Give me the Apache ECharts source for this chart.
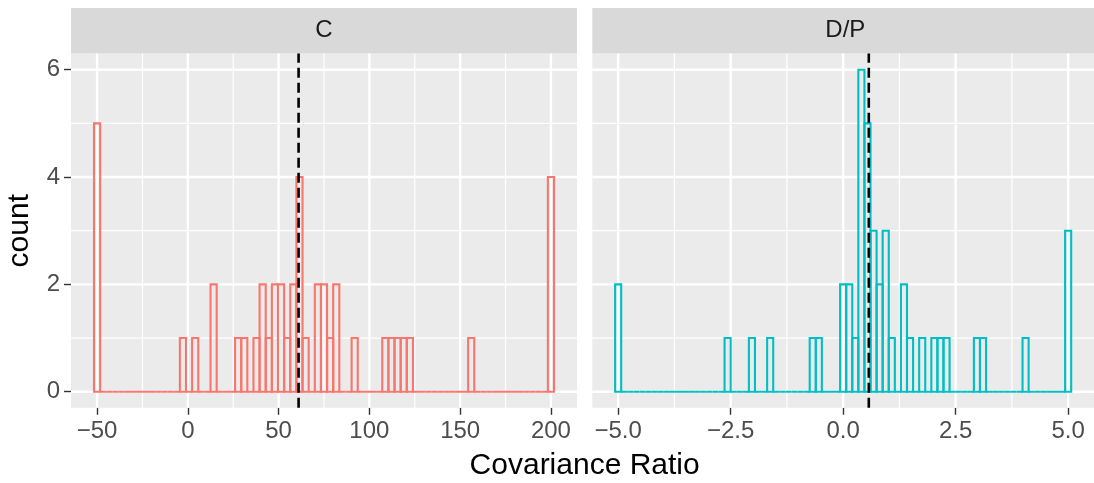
<!DOCTYPE html>
<html>
<head>
<meta charset="utf-8">
<script src="https://cdn.jsdelivr.net/npm/echarts@6/dist/echarts.min.js"></script>
<style>html,body{margin:0;padding:0;background:#fff;}#chart{width:1094px;height:483px;}</style>
</head>
<body>
<div id="chart"></div>
<script>
// ---- data ----
const BINS = 75;
const panels = ['C', 'D/P'];
const cRange = [-50, 200];           // centre of first / last bin
const dpRange = [-5, 5];
const cCounts = [
  5,0,0,0,0,0,0,0,0,0,
  0,0,0,0,1,0,1,0,0,2,
  0,0,0,1,1,0,1,2,1,2,
  2,1,2,4,1,0,2,2,1,2,
  0,0,1,0,0,0,0,1,1,1,
  1,1,0,0,0,0,0,0,0,0,
  0,1,0,0,0,0,0,0,0,0,
  0,0,0,0,4
];
const dpCounts = [
  2,0,0,0,0,0,0,0,0,0,
  0,0,0,0,0,0,0,0,1,0,
  0,0,1,0,0,1,0,0,0,0,
  0,0,1,1,0,0,0,2,2,1,
  6,5,3,2,3,1,0,2,1,0,
  1,0,1,1,1,0,0,0,0,1,
  1,0,0,0,0,0,0,1,0,0,
  0,0,0,0,3
];
const cMedian = 61;
const dpMedian = 0.57;
const cTicks = [-50, 0, 50, 100, 150, 200];
const cMinor = [-25, 25, 75, 125, 175];
const dpTicks = [-5, -2.5, 0, 2.5, 5];
const dpMinor = [-3.75, -1.25, 1.25, 3.75];
const yTicks = [0, 2, 4, 6];
const yMinor = [1, 3, 5];
const xTitle = 'Covariance Ratio';
const yTitle = 'count';

// ---- layout ----
const FONT = 'Liberation Sans, Arial, sans-serif';
const Y_MIN = -0.3, Y_MAX = 6.3;
function expandRange(r) {
  const w = (r[1] - r[0]) / (BINS - 1);
  const lo = r[0] - w / 2, hi = r[1] + w / 2;
  const e = (hi - lo) * 0.05;
  return [lo - e, hi + e];
}
const cX = expandRange(cRange);
const dpX = expandRange(dpRange);

const PT = 53.6, PH = 354.2, PW = 506;
const P2L = 592.3;
const grids = [
  {left: 71, top: PT, width: PW, height: PH, show: true, backgroundColor: '#EBEBEB', borderWidth: 0},
  {left: P2L, top: PT, width: PW, height: PH, show: true, backgroundColor: '#EBEBEB', borderWidth: 0}
];

const minus = s => String(s).replace('-', '\u2212');
function xAxisDef(gi, rng, ticks, fmt) {
  return {
    type: 'value', gridIndex: gi, min: rng[0], max: rng[1],
    axisLine: {show: false, onZero: false},
    splitLine: {show: false},
    axisTick: {show: true, length: 7, customValues: ticks, lineStyle: {color: '#333333', width: 1.4}},
    axisLabel: {customValues: ticks, color: '#4D4D4D', fontSize: 24, fontFamily: FONT, margin: 12,
                formatter: v => minus(fmt(v))}
  };
}
function yAxisDef(gi, showLabels) {
  return {
    type: 'value', gridIndex: gi, min: Y_MIN, max: Y_MAX,
    axisLine: {show: false, onZero: false}, splitLine: {show: false},
    axisTick: {show: showLabels, length: 7, customValues: yTicks, lineStyle: {color: '#333333', width: 1.4}},
    axisLabel: {show: showLabels, customValues: yTicks, color: '#4D4D4D', fontSize: 24, fontFamily: FONT, margin: 11}
  };
}

function gridLines(idx, xr, xMajor, xMinor) {
  return {
    type: 'custom', xAxisIndex: idx, yAxisIndex: idx, z: 1, silent: true,
    data: [[xr[0], Y_MIN]],
    renderItem: (params, api) => {
      const children = [];
      const vline = (v, lw) => {
        const p0 = api.coord([v, Y_MIN]), p1 = api.coord([v, Y_MAX]);
        children.push({type: 'line', shape: {x1: p0[0], y1: p0[1], x2: p1[0], y2: p1[1]}, style: {stroke: '#FFFFFF', lineWidth: lw}});
      };
      const hline = (v, lw) => {
        const p0 = api.coord([xr[0], v]), p1 = api.coord([xr[1], v]);
        children.push({type: 'line', shape: {x1: p0[0], y1: p0[1], x2: p1[0], y2: p1[1]}, style: {stroke: '#FFFFFF', lineWidth: lw}});
      };
      xMinor.forEach(v => vline(v, 1.2));
      yMinor.forEach(v => hline(v, 1.2));
      xMajor.forEach(v => vline(v, 2.4));
      yTicks.forEach(v => hline(v, 2.4));
      return {type: 'group', children: children};
    }
  };
}

function histSeries(idx, counts, range, color) {
  const w = (range[1] - range[0]) / (BINS - 1);
  return {
    type: 'custom', xAxisIndex: idx, yAxisIndex: idx, z: 3, silent: true,
    data: counts.map((c, i) => [range[0] + i * w, c]),
    renderItem: (params, api) => {
      const xc = api.value(0), c = api.value(1);
      const p0 = api.coord([xc - w / 2, 0]);
      const p1 = api.coord([xc + w / 2, c]);
      return {type: 'rect',
              shape: {x: p0[0], y: p1[1], width: p1[0] - p0[0], height: p0[1] - p1[1]},
              style: {fill: 'none', stroke: color, lineWidth: 2.1}};
    }
  };
}

function medianSeries(idx, m) {
  return {
    type: 'custom', xAxisIndex: idx, yAxisIndex: idx, z: 4, silent: true,
    data: [[m, 0]],
    renderItem: (params, api) => {
      const p0 = api.coord([api.value(0), Y_MIN]);
      const p1 = api.coord([api.value(0), Y_MAX]);
      return {type: 'line', shape: {x1: p0[0], y1: p0[1], x2: p1[0], y2: p1[1]},
              style: {stroke: '#000000', lineWidth: 2.6, lineDash: [10, 5]}};
    }
  };
}

const chart = echarts.init(document.getElementById('chart'), null, {renderer: 'canvas'});
const stripTop = 8;
const option = {
  animation: false,
  backgroundColor: '#FFFFFF',
  tooltip: {show: false},
  grid: grids,
  xAxis: [
    xAxisDef(0, cX, cTicks, v => String(v)),
    xAxisDef(1, dpX, dpTicks, v => Number(v).toFixed(1))
  ],
  yAxis: [yAxisDef(0, true), yAxisDef(1, false)],
  series: [
    gridLines(0, cX, cTicks, cMinor),
    gridLines(1, dpX, dpTicks, dpMinor),
    histSeries(0, cCounts, cRange, '#F8766D'),
    histSeries(1, dpCounts, dpRange, '#00BFC4'),
    medianSeries(0, cMedian),
    medianSeries(1, dpMedian)
  ],
  graphic: [
    {type: 'rect', shape: {x: 71, y: stripTop, width: PW, height: PT - stripTop}, style: {fill: '#D9D9D9'}, silent: true},
    {type: 'rect', shape: {x: P2L, y: stripTop, width: PW, height: PT - stripTop}, style: {fill: '#D9D9D9'}, silent: true},
    {type: 'text', x: 71 + PW / 2, y: (stripTop + PT) / 2, style: {text: panels[0], fill: '#1A1A1A', font: '24px ' + FONT, align: 'center', verticalAlign: 'middle'}},
    {type: 'text', x: P2L + PW / 2, y: (stripTop + PT) / 2, style: {text: panels[1], fill: '#1A1A1A', font: '24px ' + FONT, align: 'center', verticalAlign: 'middle'}},
    {type: 'text', x: (71 + P2L + PW) / 2, y: 466, style: {text: xTitle, fill: '#000000', font: '30px ' + FONT, align: 'center', verticalAlign: 'middle'}},
    {type: 'text', x: 20, y: PT + PH / 2, rotation: Math.PI / 2, style: {text: yTitle, fill: '#000000', font: '30px ' + FONT, align: 'center', verticalAlign: 'middle'}}
  ]
};
chart.setOption(option);
</script>
</body>
</html>
